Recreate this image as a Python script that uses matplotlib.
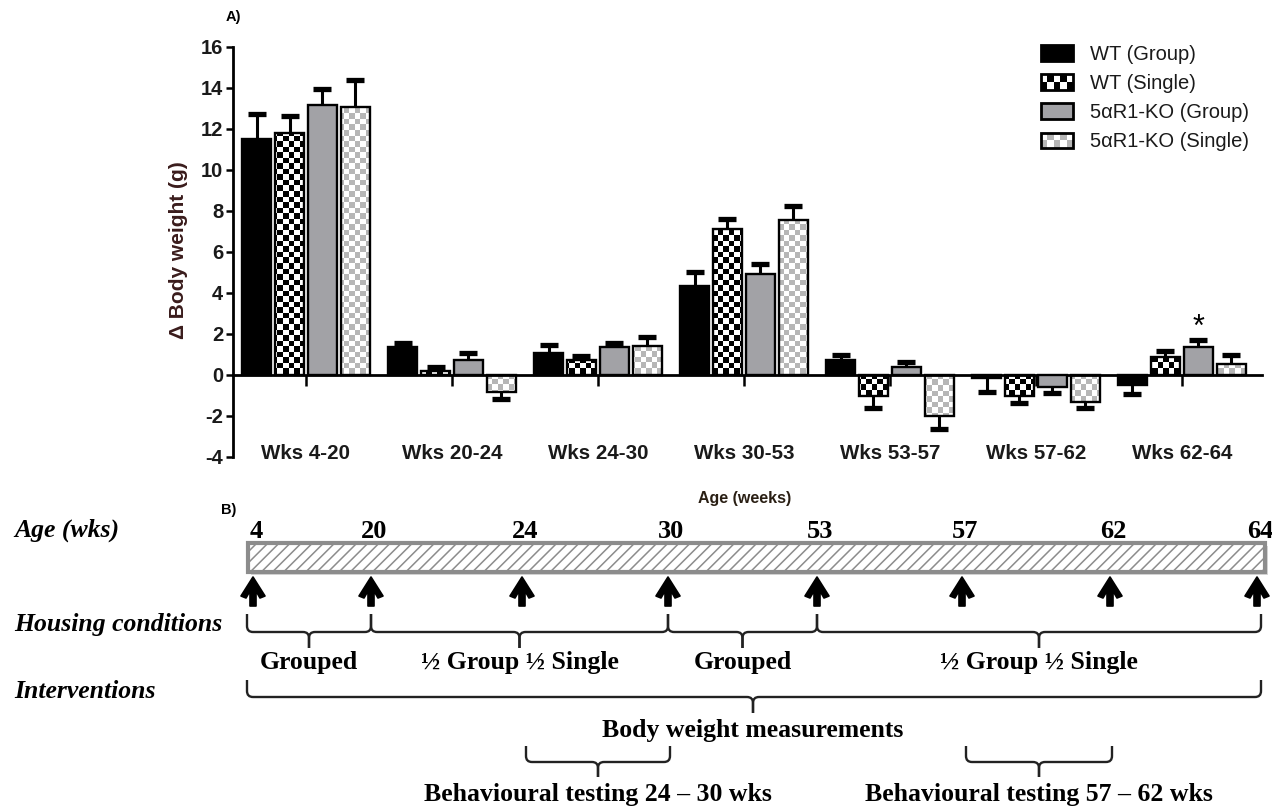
import numpy as np
import matplotlib
matplotlib.use('Agg')
import matplotlib.pyplot as plt
import matplotlib.patches as mpatches
from matplotlib.path import Path
from matplotlib.legend_handler import HandlerBase

plt.rcParams['axes.unicode_minus'] = False
plt.rcParams['hatch.linewidth'] = 1.1

# ---- data (panel A) ----
groups = ['Wks 4-20', 'Wks 20-24', 'Wks 24-30', 'Wks 30-53', 'Wks 53-57', 'Wks 57-62', 'Wks 62-64']
series_names = ['WT (Group)', 'WT (Single)', '5\u03b1R1-KO (Group)', '5\u03b1R1-KO (Single)']
wt_group = [11.5, 1.33, 1.04, 4.35, 0.73, -0.18, -0.49]
wt_group_err = [1.2, 0.2, 0.43, 0.65, 0.23, 0.68, 0.45]
wt_single = [11.8, 0.2, 0.72, 7.12, -1.03, -1.03, 0.85]
wt_single_err = [0.8, 0.2, 0.2, 0.49, 0.6, 0.37, 0.29]
ko_group = [13.15, 0.72, 1.33, 4.92, 0.36, -0.59, 1.33]
ko_group_err = [0.8, 0.32, 0.22, 0.49, 0.28, 0.32, 0.37]
ko_single = [13.07, -0.86, 1.38, 7.56, -2.0, -1.32, 0.52]
ko_single_err = [1.3, 0.33, 0.45, 0.65, 0.65, 0.31, 0.46]
signif_series = 2
signif_group = 6

# ---- data (panel B) ----
timeline_weeks = [4, 20, 24, 30, 53, 57, 62, 64]
housing_labels = ['Grouped', '\u00bd Group \u00bd Single', 'Grouped', '\u00bd Group \u00bd Single']
housing_spans = [(4, 20), (20, 30), (30, 53), (53, 64)]
behaviour_spans = [(24, 30), (57, 62)]

# layout (pixel positions of timeline weeks)
week_px = dict(zip(timeline_weeks, [253, 371, 522, 668, 817, 962, 1110, 1257]))

W, H = 1272, 807
fig = plt.figure(figsize=(W / 100, H / 100), dpi=100)

SANS = ['Liberation Sans', 'DejaVu Sans']
SERIF = ['Liberation Serif', 'DejaVu Serif']
GRAY = '#a2a2a6'
LIGHT = '#b6b6b6'

# ---------------- panel A ----------------
ax = fig.add_axes([233 / W, 1 - 456.7 / H, 1029 / W, 410 / H])
ax.set_xlim(-0.5, 6.548)
ax.set_ylim(-4, 16)

values = [wt_group, wt_single, ko_group, ko_single]
errors = [wt_group_err, wt_single_err, ko_group_err, ko_single_err]
faces = ['black', 'none', GRAY, 'none']
checker_cols = [None, 'black', None, LIGHT]

x = np.arange(len(groups))
step = 0.226
bw = 0.205

# checker image covering the axes; clipped to each bar
cell = 5.5
nx, ny = int(1029 / cell), int(410 / cell)
ii, jj = np.indices((ny, nx))
checker = (ii + jj) % 2

for k in range(4):
    xs = x + (k - 1.5) * step
    v = np.array(values[k])
    e = np.array(errors[k])
    bars = ax.bar(xs, v, width=bw, color=faces[k], edgecolor='black',
                  linewidth=1.7, zorder=3)
    if checker_cols[k] is not None:
        cmap = matplotlib.colors.ListedColormap(['white', checker_cols[k]])
        for b in bars:
            im = ax.imshow(checker, cmap=cmap, extent=(-0.5, 6.548, -4, 16),
                           aspect='auto', interpolation='nearest', zorder=2)
            im.set_clip_path(b)
    end = v + np.sign(v) * e
    ax.vlines(xs, v, end, color='black', linewidth=2.2, zorder=4)
    ax.plot(xs, end, ls='none', marker='_', markersize=13, mew=3.8,
            color='black', zorder=4)

ax.set_xlim(-0.5, 6.548)
ax.set_ylim(-4, 16)

# significance star
xs_sig = signif_group + (signif_series - 1.5) * step
ax.text(xs_sig, values[signif_series][signif_group] + errors[signif_series][signif_group] + 0.6,
        '*', ha='center', va='center', fontsize=22, family=SANS)

for s in ['top', 'right']:
    ax.spines[s].set_visible(False)
ax.spines['bottom'].set_position(('data', 0))
ax.spines['bottom'].set_linewidth(2)
ax.spines['left'].set_linewidth(2)
ax.set_yticks(np.arange(-4, 17, 2))
ax.set_xticks(x)
ax.set_xticklabels(groups)
ax.tick_params(axis='y', length=5, width=1.8, labelsize=14.5, pad=2)
ax.tick_params(axis='x', length=8, width=1.8, labelsize=14.8, pad=42)
for lab in ax.get_xticklabels() + ax.get_yticklabels():
    lab.set_fontweight('bold')
    lab.set_family(SANS)
    lab.set_color('#1a1a1a')
ax.set_ylabel('\u0394 Body weight (g)', fontsize=15, fontweight='bold',
              family=SANS, color='#3a1c1c')
ax.yaxis.set_label_coords(-0.044, 0.504)


class CheckerHandler(HandlerBase):
    def create_artists(self, legend, orig_handle, xdescent, ydescent,
                       width, height, fontsize, trans):
        x0, y0 = -xdescent, -ydescent
        arts = [mpatches.Rectangle((x0, y0), width, height, facecolor='white',
                                   edgecolor='none', transform=trans)]
        ncol, nrow = 5, 2
        cw, ch = width / ncol, height / nrow
        for r in range(nrow):
            for c in range(ncol):
                if (r + c) % 2 == 0:
                    arts.append(mpatches.Rectangle((x0 + c * cw, y0 + r * ch), cw, ch,
                                                   facecolor=orig_handle.get_facecolor(),
                                                   edgecolor='none', transform=trans))
        arts.append(mpatches.Rectangle((x0, y0), width, height, fill=False,
                                       edgecolor='black', linewidth=2, transform=trans))
        return arts


handles = [mpatches.Patch(facecolor='black', edgecolor='black', linewidth=2),
           mpatches.Patch(facecolor='black'),
           mpatches.Patch(facecolor=GRAY, edgecolor='black', linewidth=2),
           mpatches.Patch(facecolor=LIGHT)]
leg = ax.legend(handles, series_names, loc='upper left',
                bbox_to_anchor=(1041 / W, 1 - 45 / H), bbox_transform=fig.transFigure,
                frameon=False, prop={'family': SANS, 'size': 14.5},
                handlelength=1.6, handleheight=0.8, handletextpad=0.85,
                labelspacing=0.5, borderpad=0, borderaxespad=0,
                handler_map={handles[1]: CheckerHandler(), handles[3]: CheckerHandler()})
for t in leg.get_texts():
    t.set_color('#1a1a1a')

fig.text(233 / W, 1 - 17 / H, 'A)', ha='center', va='center', fontsize=10.5,
         fontweight='bold', family=SANS)
fig.text(745 / W, 1 - 498 / H, 'Age (weeks)', ha='center', va='center', fontsize=11.5,
         fontweight='bold', family=SANS, color='#2a1f14')

# ---------------- panel B ----------------
bx = fig.add_axes([0, 0, 1, 1], zorder=-1)
bx.set_xlim(0, W)
bx.set_ylim(H, 0)
bx.axis('off')

bx.text(229, 510, 'B)', ha='center', va='center', fontsize=10.5, fontweight='bold', family=SANS)

# timeline bar
x_left, x_right = 248, 1265
bx.add_patch(mpatches.Rectangle((x_left + 3, 546), x_right - x_left, 29,
                                facecolor='#d8d8d8', edgecolor='none', zorder=1))
bx.add_patch(mpatches.Rectangle((x_left, 543), x_right - x_left, 29, facecolor='white',
                                edgecolor='#8c8c8c', hatch='///', linewidth=3, zorder=2))

for wk in timeline_weeks:
    px = week_px[wk]
    bx.text(px + 3, 531, str(wk), ha='center', va='center', fontsize=19,
            fontweight='bold', family=SERIF)
    arrow = [(px, 577), (px + 12, 596), (px + 7, 598), (px + 3, 591), (px + 3, 606),
             (px - 3, 606), (px - 3, 591), (px - 7, 598), (px - 12, 596)]
    bx.add_patch(mpatches.Polygon(arrow, closed=True, facecolor='black', edgecolor='black',
                                  linewidth=1.2, joinstyle='round', zorder=3))

left_labels = [('Age (wks)', 530), ('Housing conditions', 625), ('Interventions', 692)]
for txt, yy in left_labels:
    bx.text(14, yy, txt, ha='left', va='center', fontsize=18.5, fontweight='bold',
            fontstyle='italic', family=SERIF)


def brace(x0, x1, xc, y_end, y_bar, y_tip, r=6):
    for xe, sgn in [(x0, 1), (x1, -1)]:
        verts = [(xe, y_end), (xe, y_bar - r), (xe, y_bar), (xe + sgn * r, y_bar),
                 (xc - sgn * r, y_bar), (xc, y_bar), (xc, y_bar + r), (xc, y_tip)]
        codes = [Path.MOVETO, Path.LINETO, Path.CURVE3, Path.CURVE3,
                 Path.LINETO, Path.CURVE3, Path.CURVE3, Path.LINETO]
        bx.add_patch(mpatches.PathPatch(Path(verts, codes), fill=False,
                                        edgecolor='#222222', linewidth=1.7))


for (a, b), lab in zip(housing_spans, housing_labels):
    x0 = week_px[a] - 6 if a == 4 else week_px[a]
    x1 = week_px[b] + 4 if b == 64 else week_px[b]
    xc = (x0 + x1) / 2
    brace(x0, x1, xc, 614, 632, 648)
    bx.text(xc, 662, lab, ha='center', va='center', fontsize=18.5, fontweight='bold',
            family=SERIF)

x0, x1 = week_px[4] - 6, week_px[64] + 4
brace(x0, x1, 753, 680, 697, 713)
bx.text(753, 730, 'Body weight measurements', ha='center', va='center', fontsize=18.5,
        fontweight='bold', family=SERIF)

for a, b in behaviour_spans:
    x0, x1 = week_px[a] + 4, week_px[b] + 2
    xc = (x0 + x1) / 2
    brace(x0, x1, xc, 746, 762, 777)
    bx.text(xc, 794, 'Behavioural testing %d \u2013 %d wks' % (a, b), ha='center',
            va='center', fontsize=18.5, fontweight='bold', family=SERIF)

fig.savefig('out.png', dpi=100)
